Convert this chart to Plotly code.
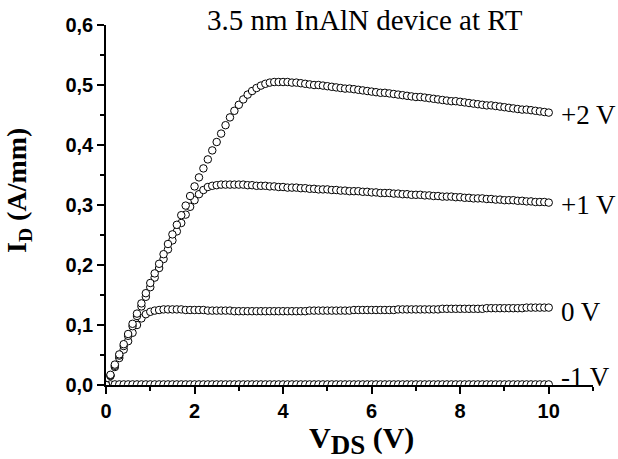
import plotly.graph_objects as go

vds = [0.0, 0.1, 0.2, 0.3, 0.4, 0.5, 0.6, 0.7, 0.8, 0.9,
       1.0, 1.1, 1.2, 1.3, 1.4, 1.5, 1.6, 1.7, 1.8, 1.9,
       2.0, 2.1, 2.2, 2.3, 2.4, 2.5, 2.6, 2.7, 2.8, 2.9,
       3.0, 3.1, 3.2, 3.3, 3.4, 3.5, 3.6, 3.7, 3.8, 3.9,
       4.0, 4.1, 4.2, 4.3, 4.4, 4.5, 4.6, 4.7, 4.8, 4.9,
       5.0, 5.1, 5.2, 5.3, 5.4, 5.5, 5.6, 5.7, 5.8, 5.9,
       6.0, 6.1, 6.2, 6.3, 6.4, 6.5, 6.6, 6.7, 6.8, 6.9,
       7.0, 7.1, 7.2, 7.3, 7.4, 7.5, 7.6, 7.7, 7.8, 7.9,
       8.0, 8.1, 8.2, 8.3, 8.4, 8.5, 8.6, 8.7, 8.8, 8.9,
       9.0, 9.1, 9.2, 9.3, 9.4, 9.5, 9.6, 9.7, 9.8, 9.9,
       10.0]

id_p2 = [0.000, 0.017, 0.034, 0.051, 0.068, 0.085, 0.102, 0.119, 0.136, 0.153,
         0.170, 0.186, 0.202, 0.218, 0.235, 0.251, 0.267, 0.283, 0.299, 0.315,
         0.331, 0.346, 0.361, 0.376, 0.391, 0.405, 0.419, 0.433, 0.446, 0.457,
         0.467, 0.476, 0.484, 0.490, 0.495, 0.499, 0.502, 0.504, 0.505, 0.505,
         0.505, 0.505, 0.504, 0.504, 0.503, 0.502, 0.501, 0.500, 0.500, 0.499,
         0.498, 0.497, 0.496, 0.495, 0.494, 0.494, 0.493, 0.492, 0.491, 0.490,
         0.489, 0.488, 0.487, 0.487, 0.486, 0.485, 0.484, 0.483, 0.482, 0.481,
         0.480, 0.480, 0.479, 0.478, 0.477, 0.476, 0.475, 0.474, 0.473, 0.473,
         0.472, 0.471, 0.470, 0.469, 0.468, 0.467, 0.466, 0.466, 0.465, 0.464,
         0.463, 0.462, 0.461, 0.460, 0.459, 0.459, 0.458, 0.457, 0.456, 0.455,
         0.454]

id_p1 = [0.000, 0.016, 0.032, 0.049, 0.065, 0.082, 0.098, 0.115, 0.131, 0.147,
         0.163, 0.179, 0.195, 0.210, 0.226, 0.241, 0.256, 0.270, 0.284, 0.297,
         0.308, 0.318, 0.325, 0.330, 0.332, 0.333, 0.334, 0.334, 0.334, 0.334,
         0.334, 0.334, 0.333, 0.333, 0.332, 0.332, 0.332, 0.331, 0.331, 0.330,
         0.330, 0.329, 0.329, 0.329, 0.328, 0.328, 0.327, 0.327, 0.326, 0.326,
         0.326, 0.325, 0.325, 0.324, 0.324, 0.323, 0.323, 0.323, 0.322, 0.322,
         0.321, 0.321, 0.320, 0.320, 0.320, 0.319, 0.319, 0.318, 0.318, 0.317,
         0.317, 0.317, 0.316, 0.316, 0.315, 0.315, 0.314, 0.314, 0.314, 0.313,
         0.313, 0.312, 0.312, 0.311, 0.311, 0.311, 0.310, 0.310, 0.309, 0.309,
         0.308, 0.308, 0.308, 0.307, 0.307, 0.306, 0.306, 0.305, 0.305, 0.305,
         0.304]

id_0 = [0.000, 0.015, 0.030, 0.045, 0.059, 0.073, 0.087, 0.100, 0.111, 0.118,
        0.122, 0.124, 0.125, 0.126, 0.126, 0.126, 0.126, 0.126, 0.125, 0.125,
        0.125, 0.125, 0.125, 0.124, 0.124, 0.124, 0.124, 0.124, 0.124, 0.123,
        0.123, 0.123, 0.123, 0.123, 0.123, 0.123, 0.123, 0.123, 0.123, 0.123,
        0.123, 0.123, 0.123, 0.123, 0.123, 0.123, 0.124, 0.124, 0.124, 0.124,
        0.124, 0.124, 0.124, 0.124, 0.124, 0.124, 0.125, 0.125, 0.125, 0.125,
        0.125, 0.125, 0.125, 0.125, 0.125, 0.125, 0.126, 0.126, 0.126, 0.126,
        0.126, 0.126, 0.126, 0.126, 0.126, 0.126, 0.127, 0.127, 0.127, 0.127,
        0.127, 0.127, 0.127, 0.127, 0.127, 0.127, 0.128, 0.128, 0.128, 0.128,
        0.128, 0.128, 0.128, 0.128, 0.128, 0.129, 0.129, 0.129, 0.129, 0.129,
        0.129]

id_m1 = [0.000, 0.001, 0.001, 0.001, 0.001, 0.001, 0.001, 0.001, 0.001, 0.001,
         0.001, 0.001, 0.001, 0.001, 0.001, 0.001, 0.001, 0.001, 0.001, 0.001,
         0.001, 0.001, 0.001, 0.001, 0.001, 0.001, 0.001, 0.001, 0.001, 0.001,
         0.001, 0.001, 0.001, 0.001, 0.001, 0.001, 0.001, 0.001, 0.001, 0.001,
         0.001, 0.001, 0.001, 0.001, 0.001, 0.001, 0.001, 0.001, 0.001, 0.001,
         0.001, 0.001, 0.001, 0.001, 0.001, 0.001, 0.001, 0.001, 0.001, 0.001,
         0.001, 0.001, 0.001, 0.001, 0.001, 0.001, 0.001, 0.001, 0.001, 0.001,
         0.001, 0.001, 0.001, 0.001, 0.001, 0.001, 0.001, 0.001, 0.001, 0.001,
         0.001, 0.001, 0.001, 0.001, 0.001, 0.001, 0.001, 0.001, 0.001, 0.001,
         0.001, 0.001, 0.001, 0.001, 0.001, 0.001, 0.001, 0.001, 0.001, 0.001,
         0.001]

series = [id_m1, id_0, id_p1, id_p2]
gate_labels = ["-1 V", "0 V", "+1 V", "+2 V"]
label_y = [0.014, 0.121, 0.300, 0.450]

y_tickvals = [0.0, 0.1, 0.2, 0.3, 0.4, 0.5, 0.6]
y_ticktext = ["0,0", "0,1", "0,2", "0,3", "0,4", "0,5", "0,6"]
x_tickvals = [0, 2, 4, 6, 8, 10]
x_ticktext = ["0", "2", "4", "6", "8", "10"]

title_text = "3.5 nm InAlN device at RT"

SERIF = "Liberation Serif, Times New Roman, serif"
SANS = "Liberation Sans, Arial, sans-serif"

fig = go.Figure()
for ys, name in zip(series, gate_labels):
    fig.add_trace(go.Scatter(
        x=vds, y=ys, mode="markers", name=name,
        marker=dict(symbol="circle", size=7.5, color="white",
                    line=dict(color="black", width=1)),
        showlegend=False,
    ))

annotations = []
for name, yv in zip(gate_labels, label_y):
    annotations.append(dict(
        x=10.3, y=yv, xref="x", yref="y", text=name, showarrow=False,
        xanchor="left", yanchor="middle", xshift=-3,
        font=dict(family=SERIF, size=27, color="black"),
    ))

annotations.append(dict(
    x=0.532, y=1.015, xref="paper", yref="paper", text=title_text,
    showarrow=False, xanchor="center", yanchor="middle",
    font=dict(family=SERIF, size=29, color="black"),
))

annotations.append(dict(
    x=-0.18, y=0.54, xref="paper", yref="paper",
    text="<b>I<sub>D</sub> (A/mm)</b>", textangle=-90,
    showarrow=False, xanchor="center", yanchor="middle",
    font=dict(family=SERIF, size=28, color="black"),
))

annotations.append(dict(
    x=0.525, y=-0.155, xref="paper", yref="paper",
    text="<b>V<sub><span style='font-size:27px'>DS</span></sub> (V)</b>",
    showarrow=False, xanchor="center", yanchor="middle",
    font=dict(family=SERIF, size=30, color="black"),
))

fig.update_layout(
    width=618, height=459,
    margin=dict(l=106, r=25, t=25, b=74),
    paper_bgcolor="white", plot_bgcolor="white",
    annotations=annotations,
    xaxis=dict(
        range=[0, 11], showgrid=False, zeroline=False,
        showline=True, linecolor="black", linewidth=1.5,
        ticks="outside", ticklen=7, tickwidth=1.5, tickcolor="black",
        tickvals=x_tickvals, ticktext=x_ticktext,
        tickfont=dict(family=SANS, size=20, color="black", weight="bold"),
        minor=dict(dtick=1, tick0=0, ticks="outside", ticklen=4,
                   tickwidth=1.5, tickcolor="black", showgrid=False),
    ),
    yaxis=dict(
        range=[0, 0.6], showgrid=False, zeroline=False,
        showline=True, linecolor="black", linewidth=1.5,
        ticks="outside", ticklen=7, tickwidth=1.5, tickcolor="black",
        tickvals=y_tickvals, ticktext=y_ticktext,
        tickfont=dict(family=SANS, size=20, color="black", weight="bold"),
        minor=dict(dtick=0.05, tick0=0, ticks="outside", ticklen=4,
                   tickwidth=1.5, tickcolor="black", showgrid=False),
    ),
)

fig.write_html("out.html")
